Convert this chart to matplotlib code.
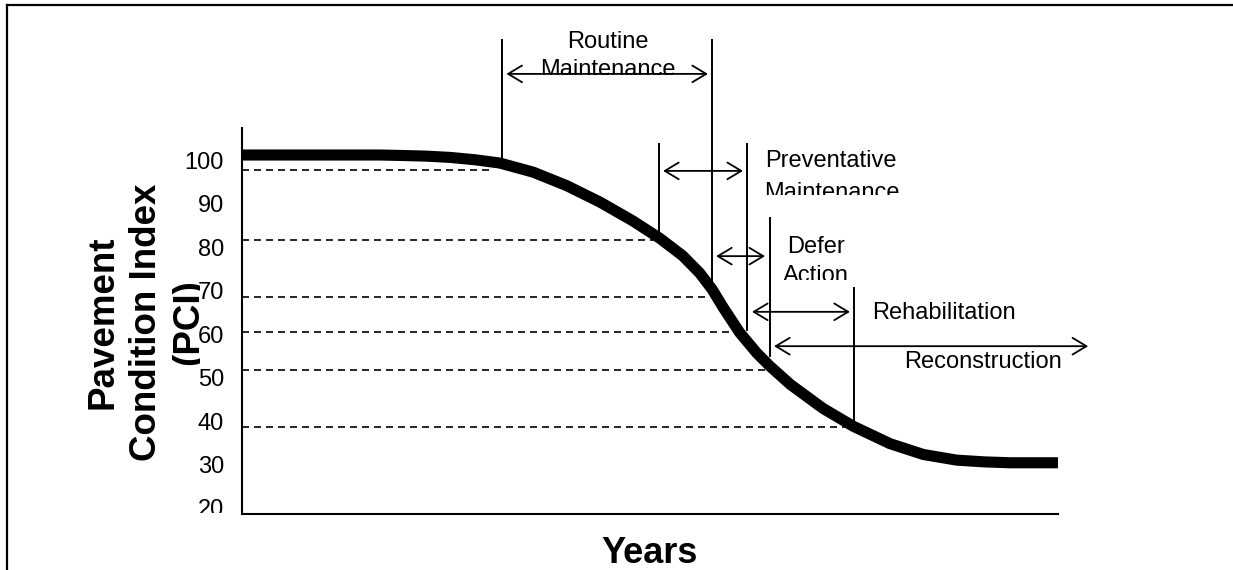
import matplotlib
matplotlib.use("Agg")
import matplotlib.pyplot as plt
from matplotlib.lines import Line2D
from matplotlib.transforms import Bbox

plt.rcParams['font.family'] = ['Liberation Sans', 'DejaVu Sans']

# deterioration curve (years in % of life, PCI)
years = [0, 7.1, 16.9, 19.4, 22.5, 25.5, 28.6, 31.6, 35.7, 39.8, 43.9, 47.9, 51.2, 54.0,
         56.1, 57.6, 59.0, 61.0, 63.1, 64.7, 67.2, 71.2, 74.9, 79.4, 83.5, 87.6, 91.0, 94.1, 100]
pci = [101.15, 101.15, 101.15, 101.05, 100.9, 100.6, 100.05, 99.3, 97.2, 94.1, 90.3, 86.0,
       82.0, 78.0, 74.0, 70.3, 66.0, 60.3, 55.6, 52.6, 48.4, 42.9, 38.8, 34.8, 32.3, 31.0,
       30.6, 30.4, 30.4]

pci_ticks = [20, 30, 40, 50, 60, 70, 80, 90, 100]

# dashed guide levels and where they meet the curve
guide_levels = [97.7, 81.6, 68.6, 60.5, 51.7, 38.6]
guide_ends = [30.4, 50.4, 57.4, 60.4, 64.3, 73.9]

# vertical boundary markers
marker_x = [31.9, 57.6, 51.1, 61.9, 64.7, 75.0]
marker_top = [127.7, 127.7, 103.6, 103.6, 86.7, 70.6]
marker_bottom = [99.5, 72.0, 83.4, 60.9, 54.9, 40.2]

# treatment ranges (double arrows)
stage_names = ["Routine\nMaintenance", "Preventative\nMaintenance", "Defer\nAction",
               "Rehabilitation", "Reconstruction"]
arrow_start = [32.4, 51.6, 58.1, 62.5, 65.2]
arrow_end = [57.1, 61.4, 64.1, 74.5, 103.7]
arrow_level = [119.8, 97.5, 77.9, 65.1, 57.2]

W, H = 1233, 570
fig = plt.figure(figsize=(W / 100, H / 100), dpi=100)
ax = fig.add_axes([242 / W, 56 / H, 816 / W, 386 / H])

ax.set_xlim(0, 100)
ax.set_ylim(18.62, 107.36)
for s in ['top', 'right']:
    ax.spines[s].set_visible(False)
for s in ['left', 'bottom']:
    ax.spines[s].set_linewidth(1.5)
ax.set_xticks([])
ax.set_yticks(pci_ticks)
ax.set_yticklabels([str(v) for v in pci_ticks], fontsize=17)
ax.tick_params(axis='y', length=0, pad=13)
# the lowest label is cut by its box in the original
low = ax.yaxis.get_major_ticks()[0].label1
low.set_clip_on(True)
low.set_clip_box(Bbox.from_extents(0, 57, W, H))

# guide lines
for lvl, xe in zip(guide_levels, guide_ends):
    ax.plot([0, xe], [lvl, lvl], color='black', lw=1.2, dashes=(4.2, 3.0), clip_on=False)

# boundary markers
for x, t, b in zip(marker_x, marker_top, marker_bottom):
    ax.plot([x, x], [b, t], color='black', lw=1.4, clip_on=False)

# curve
ax.plot(years, pci, color='black', lw=8, solid_capstyle='butt', solid_joinstyle='round',
        clip_on=False, zorder=5)

# arrows
for x0, x1, y in zip(arrow_start, arrow_end, arrow_level):
    ax.annotate('', xy=(x1, y), xytext=(x0, y), annotation_clip=False,
                arrowprops=dict(arrowstyle='<->,head_length=1.0,head_width=0.6',
                                lw=1.3, color='black', shrinkA=0, shrinkB=0,
                                mutation_scale=10))

# stage labels: (line text, x, baseline, ha, clip bottom in px from top)
label_pos = [
    (stage_names[0].split('\n')[0], 44.85, 125.75, 'center', None),
    (stage_names[0].split('\n')[1], 44.85, 119.3, 'center', 75),
    (stage_names[1].split('\n')[0], 72.2, 98.39, 'center', None),
    (stage_names[1].split('\n')[1], 72.3, 91.15, 'center', 195),
    (stage_names[2].split('\n')[0], 70.34, 78.62, 'center', None),
    (stage_names[2].split('\n')[1], 70.34, 71.95, 'center', 280),
    (stage_names[3], 77.2, 63.45, 'left', None),
    (stage_names[4], 90.8, 52.2, 'center', None),
]
for txt, x, y, ha, cut in label_pos:
    t = ax.text(x, y, txt, fontsize=17, ha=ha, va='baseline', clip_on=False)
    if cut is not None:
        t.set_clip_on(True)
        t.set_clip_box(Bbox.from_extents(0, H - cut, W, H))

# y axis title, three lines
ylab = [("Pavement", 103), ("Condition Index", 147), ("(PCI)", 189)]
for txt, px in ylab:
    t = fig.text(px / W, 1 - 322 / H, txt, rotation=90, fontsize=26.5, fontweight='bold',
                 ha='center', va='center')
    if txt == "(PCI)":
        t.set_clip_on(True)
        t.set_clip_box(Bbox.from_extents(0, 0, 200, H))

fig.text(650 / W, 1 - 563 / H, "Years", fontsize=26, fontweight='bold',
         ha='center', va='baseline')

# outer frame (only top and left visible)
fig.add_artist(Line2D([7 / W, 7 / W], [0, 1 - 5 / H], transform=fig.transFigure,
                      color='black', lw=1.6))
fig.add_artist(Line2D([7 / W, 1], [1 - 5 / H, 1 - 5 / H], transform=fig.transFigure,
                      color='black', lw=1.6))

plt.savefig("out.png", dpi=100)
